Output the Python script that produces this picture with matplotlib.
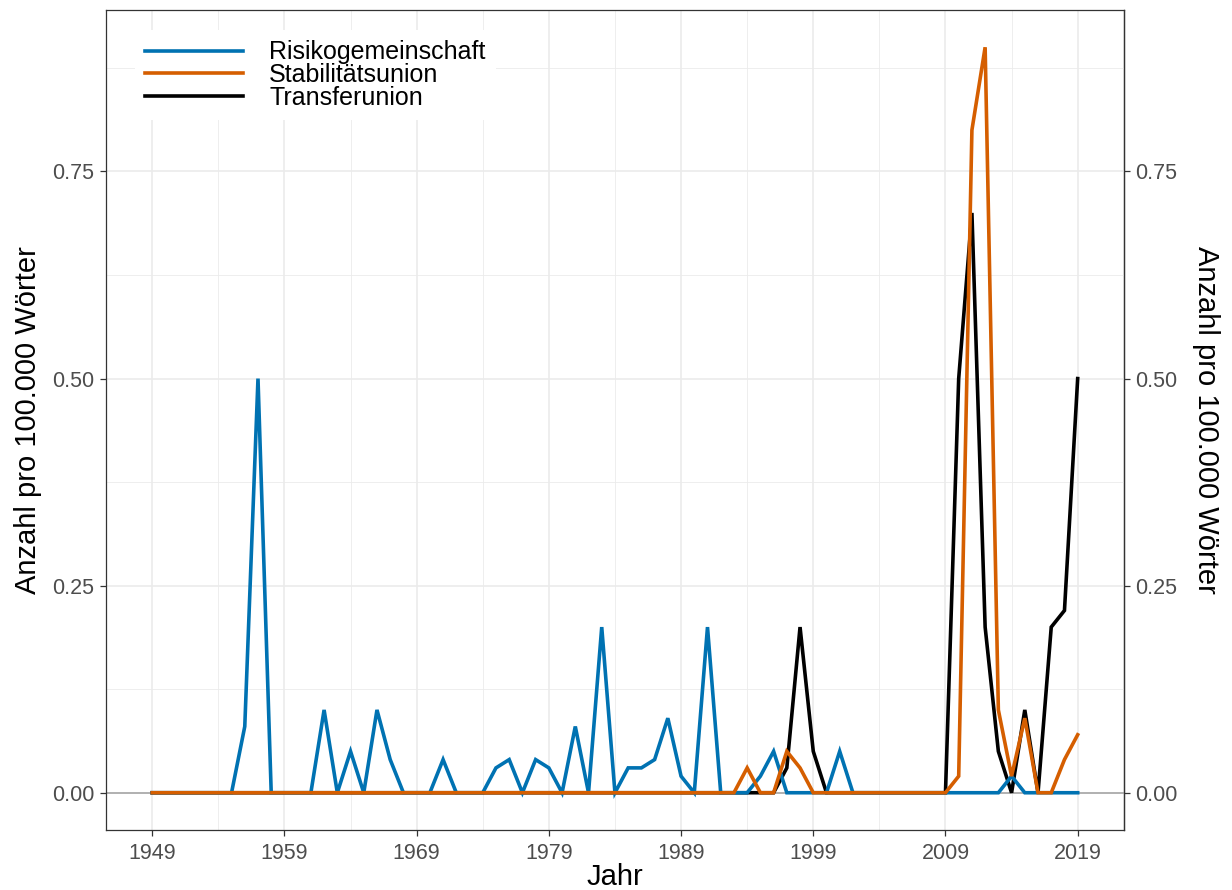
import matplotlib
matplotlib.use("Agg")
import matplotlib.pyplot as plt

plt.rcParams["font.family"] = ["Liberation Sans", "DejaVu Sans"]

years = list(range(1949, 2020))

# Risikogemeinschaft, 1949-2019
risiko = [
    0, 0, 0, 0, 0, 0, 0, 0.08, 0.5, 0,        # 1949-1958
    0, 0, 0, 0.1, 0, 0.05, 0, 0.1, 0.04, 0,   # 1959-1968
    0, 0, 0.04, 0, 0, 0, 0.03, 0.04, 0, 0.04, # 1969-1978
    0.03, 0, 0.08, 0, 0.2, 0, 0.03, 0.03, 0.04, 0.09,  # 1979-1988
    0.02, 0, 0.2, 0, 0, 0, 0.02, 0.05, 0, 0,  # 1989-1998
    0, 0, 0.05, 0, 0, 0, 0, 0, 0, 0,          # 1999-2008
    0, 0, 0, 0, 0, 0.02, 0, 0, 0, 0,          # 2009-2018
    0,                                         # 2019
]

# Stabilitaetsunion, 1949-2019
stabil = [0] * 45 + [
    0.03, 0, 0, 0.05, 0.03,                    # 1994-1998
    0, 0, 0, 0, 0, 0, 0, 0, 0, 0,              # 1999-2008
    0, 0.02, 0.8, 0.9, 0.1, 0.02, 0.09, 0, 0, 0.04,  # 2009-2018
    0.07,                                      # 2019
]

# Transferunion, 1949-2019
transfer = [0] * 48 + [
    0.03, 0.2,                                 # 1997-1998
    0.05, 0, 0, 0, 0, 0, 0, 0, 0, 0,           # 1999-2008
    0, 0.5, 0.7, 0.2, 0.05, 0, 0.1, 0, 0.2, 0.22,  # 2009-2018
    0.5,                                       # 2019
]

series = [
    ("Risikogemeinschaft", risiko, "#0072B2"),
    ("Stabilitätsunion", stabil, "#D55E00"),
    ("Transferunion", transfer, "#000000"),
]

x_ticks = list(range(1949, 2020, 10))
y_ticks = [0.0, 0.25, 0.5, 0.75]
y_labels = ["0.00", "0.25", "0.50", "0.75"]

fig = plt.figure(figsize=(12.32, 8.9), dpi=100)
ax = fig.add_axes([0.086, 0.0674, 0.8263, 0.9214])

ax.axhline(0, color="#A6A6A6", linewidth=1.2, zorder=1)

# black underneath, orange on top
z = {"Transferunion": 2, "Risikogemeinschaft": 3, "Stabilitätsunion": 4}
handles = []
for name, vals, col in series:
    h, = ax.plot(years, vals, color=col, linewidth=2.6, label=name,
                 zorder=z[name], solid_joinstyle="miter")
    handles.append(h)

ax.set_xlim(1945.5, 2022.5)
ax.set_ylim(-0.045, 0.945)
ax.set_xticks(x_ticks)
ax.set_xticks([t + 5 for t in x_ticks[:-1]], minor=True)
ax.set_yticks(y_ticks)
ax.set_yticklabels(y_labels)
ax.set_yticks([0.125, 0.375, 0.625, 0.875], minor=True)

ax.grid(True, which="major", color="#EBEBEB", linewidth=1.2, zorder=0)
ax.grid(True, which="minor", color="#EBEBEB", linewidth=0.6, zorder=0)
ax.set_axisbelow(True)

for sp in ax.spines.values():
    sp.set_color("#333333")
    sp.set_linewidth(0.9)

ax.tick_params(axis="both", which="major", length=4.3, width=0.9,
               color="#333333", labelcolor="#4D4D4D", labelsize=15.5, pad=4)
ax.tick_params(axis="x", which="major", pad=5)
ax.tick_params(axis="both", which="minor", length=0)

ax.set_xlabel("Jahr", fontsize=21, labelpad=-1)
ax.set_ylabel("Anzahl pro 100.000 Wörter", fontsize=21, labelpad=7)

sec = ax.secondary_yaxis("right")
sec.set_yticks(y_ticks)
sec.set_yticklabels(y_labels)
sec.tick_params(axis="y", length=4.3, width=0.9, color="#333333",
                labelcolor="#4D4D4D", labelsize=15.5, pad=4)
sec.spines["right"].set_color("#333333")
sec.spines["right"].set_linewidth(0.9)
sec.set_ylabel("Anzahl pro 100.000 Wörter", fontsize=21, rotation=-90,
               labelpad=30)

leg = ax.legend(handles=handles, loc="upper left",
                bbox_to_anchor=(0.029, 0.975), fontsize=18,
                frameon=True, facecolor="white", edgecolor="none",
                framealpha=1, fancybox=False, handlelength=3.9,
                handletextpad=1.05, labelspacing=-0.05, borderpad=0.4,
                borderaxespad=0)
leg.set_zorder(5)

fig.savefig("out.png", dpi=100)
